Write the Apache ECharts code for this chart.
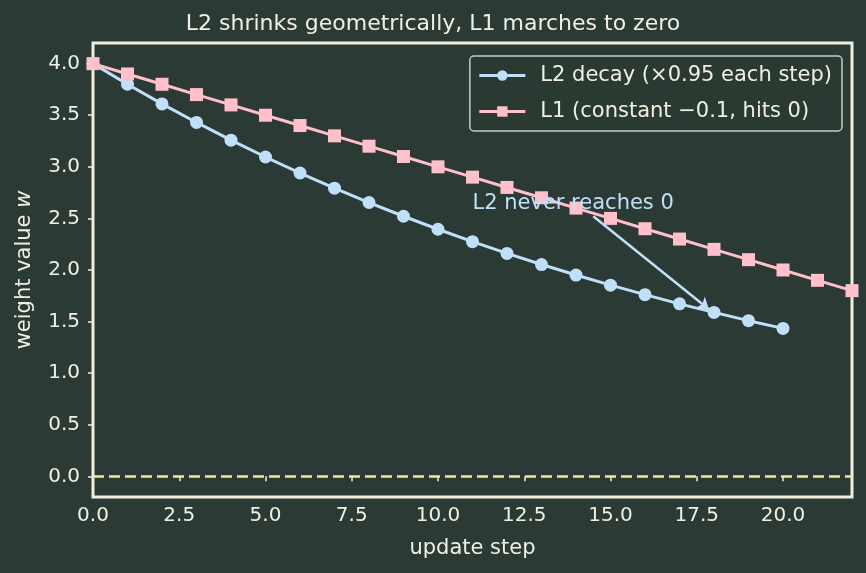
<!DOCTYPE html>
<html>
<head>
<meta charset="utf-8">
<script src="https://cdn.jsdelivr.net/npm/echarts@6/dist/echarts.min.js"></script>
<style>
  html, body { margin: 0; padding: 0; background: #2b3a34; }
  #main { width: 866px; height: 573px; }
</style>
</head>
<body>
<div id="main"></div>
<script>
var steps = [0,1,2,3,4,5,6,7,8,9,10,11,12,13,14,15,16,17,18,19,20,21,22];
// L2: multiply by 0.95 every step
var l2 = [4.0, 3.8, 3.61, 3.43, 3.258, 3.095, 2.94, 2.793, 2.654, 2.521, 2.395,
          2.275, 2.161, 2.053, 1.951, 1.853, 1.761, 1.672, 1.589, 1.509, 1.434];
// L1: minus 0.1 every step
var l1 = [4.0, 3.9, 3.8, 3.7, 3.6, 3.5, 3.4, 3.3, 3.2, 3.1, 3.0, 2.9,
          2.8, 2.7, 2.6, 2.5, 2.4, 2.3, 2.2, 2.1, 2.0, 1.9, 1.8];
var xTicks = [0, 2.5, 5, 7.5, 10, 12.5, 15, 17.5, 20];
var yTicks = [0, 0.5, 1, 1.5, 2, 2.5, 3, 3.5, 4];

var fg = '#f0efe2';
var blue = '#bfe0f8';
var pink = '#ffc0cb';
var font = 'DejaVu Sans';

var myChart = echarts.init(document.getElementById('main'));

function pairs(ys) {
    var out = [];
    for (var i = 0; i < ys.length; i++) out.push([steps[i], ys[i]]);
    return out;
}

var option = {
    backgroundColor: '#2b3a34',
    animation: false,
    textStyle: { fontFamily: font, color: fg },
    title: {
        text: 'L2 shrinks geometrically, L1 marches to zero',
        left: 'center', top: 8,
        textStyle: { fontFamily: font, fontSize: 22, fontWeight: 'normal', color: fg }
    },
    grid: {
        left: 93, right: 14, top: 43, bottom: 76,
        show: true, borderColor: fg, borderWidth: 3, backgroundColor: 'transparent'
    },
    legend: {
        orient: 'vertical',
        right: 24, top: 56,
        itemWidth: 46, itemHeight: 13, itemGap: 15,
        padding: [9, 10, 9, 8],
        backgroundColor: 'rgba(43,58,52,0.85)',
        borderColor: '#c8cbc0', borderWidth: 1.5, borderRadius: 4,
        lineStyle: { width: 3 },
        textStyle: { fontFamily: font, fontSize: 21, color: fg, padding: [0, 0, 0, 10] }
    },
    xAxis: {
        type: 'value', min: 0, max: 22,
        name: 'update step', nameLocation: 'middle', nameGap: 41,
        nameTextStyle: { fontFamily: font, fontSize: 21, color: fg },
        splitLine: { show: false },
        axisLine: { show: false },
        axisTick: { show: true, length: 5, lineStyle: { color: fg, width: 1.5 }, customValues: xTicks },
        axisLabel: {
            customValues: xTicks, fontSize: 20, color: fg, margin: 9,
            formatter: function (v) { return v.toFixed(1); }
        }
    },
    yAxis: {
        type: 'value', min: -0.2, max: 4.2,
        name: 'weight value {i|w}', nameLocation: 'middle', nameGap: 58,
        nameTextStyle: {
            fontFamily: font, fontSize: 21, color: fg,
            rich: { i: { fontStyle: 'italic', fontFamily: font, fontSize: 21, color: fg } }
        },
        splitLine: { show: false },
        axisLine: { show: false },
        axisTick: { show: true, length: 5, lineStyle: { color: fg, width: 1.5 }, customValues: yTicks },
        axisLabel: {
            customValues: yTicks, fontSize: 20, color: fg, margin: 13,
            formatter: function (v) { return v.toFixed(1); }
        }
    },
    series: [
        {
            name: 'L2 decay (\u00d70.95 each step)',
            type: 'line',
            data: pairs(l2),
            symbol: 'circle', symbolSize: 13,
            lineStyle: { color: blue, width: 3 },
            itemStyle: { color: blue },
            emphasis: { disabled: true },
            markLine: {
                silent: true,
                symbol: ['none', 'arrow'], symbolSize: 11,
                label: { show: false },
                lineStyle: { color: blue, width: 2.5, type: 'solid' },
                data: [[{ coord: [14.5, 2.52] }, { coord: [17.85, 1.62] }]]
            },
            markPoint: {
                silent: true,
                symbol: 'circle', symbolSize: 0,
                label: {
                    show: true, position: [0, 0], align: 'left', verticalAlign: 'bottom',
                    color: blue, fontFamily: font, fontSize: 21,
                    formatter: 'L2 never reaches 0'
                },
                data: [{ coord: [11, 2.54] }]
            }
        },
        {
            name: 'L1 (constant \u22120.1, hits 0)',
            type: 'line',
            data: pairs(l1),
            symbol: 'rect', symbolSize: 13,
            lineStyle: { color: pink, width: 3 },
            itemStyle: { color: pink },
            emphasis: { disabled: true },
            markLine: {
                silent: true,
                symbol: ['none', 'none'],
                label: { show: false },
                lineStyle: { color: '#fbe29a', width: 2.5, type: [11, 5] },
                data: [{ yAxis: 0 }]
            }
        }
    ]
};
myChart.setOption(option);
</script>
</body>
</html>
